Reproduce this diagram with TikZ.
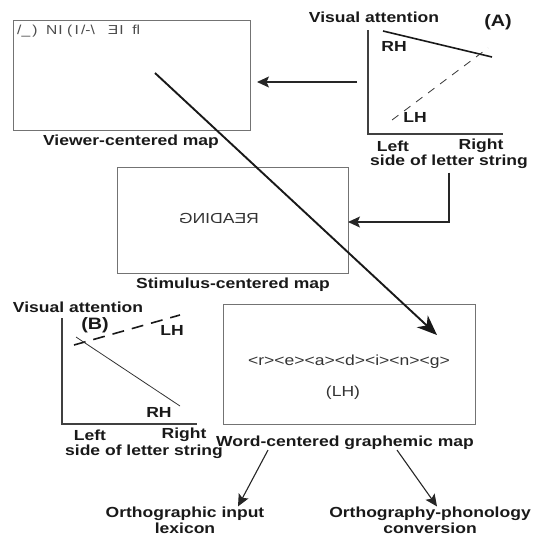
\documentclass[tikz,border=0pt]{standalone}
\usepackage{fontspec}
\usepackage{graphicx}
\setmainfont{Liberation Sans}[FakeStretch=1.2]
\usetikzlibrary{arrows.meta}

\begin{document}
\begin{tikzpicture}[x=1pt,y=-1pt,
    mapbox/.style={draw=black!55, line width=0.8pt, inner sep=0pt, outer sep=0pt},
    lbl/.style={font=\fontsize{14.6}{16}\selectfont\bfseries, text=black!90, inner sep=0pt},
    txt/.style={font=\fontsize{14.6}{16}\selectfont, text=black!80, inner sep=0pt},
    tag/.style={font=\fontsize{16.5}{18}\selectfont\bfseries, text=black!90, inner sep=0pt},
    axis/.style={draw=black!75, line width=1.1pt},
    flow/.style={draw=black!85, line width=1.1pt, -{Stealth[length=12pt,width=11pt,inset=2.5pt]}},
    bigflow/.style={draw=black!90, line width=1.9pt, -{Stealth[length=20pt,width=16pt,inset=6pt]}}
  ]
    \useasboundingbox (0,0) rectangle (533,538);

    % maps
    \node (viewer) at (131.5,75) [mapbox, minimum width=237pt, minimum height=110pt]{};
    \node (viewertxt) at (17,31) [anchor=west, font=\fontsize{13}{15}\selectfont, text=black!70, inner sep=0pt]{/\_\,)\ \ N\kern1ptI\ (\,I\,/-\textbackslash\ \ \ \reflectbox{E}\kern1ptI\ \ fl};
    \node (viewerlbl) at (131,142) [lbl]{Viewer-centered map};

    \node (stimulus) at (232.5,220) [mapbox, minimum width=231pt, minimum height=106pt]{};
    \node (reading) at (219,218) [txt]{\reflectbox{READING}};
    \node (stimuluslbl) at (233,285) [lbl]{Stimulus-centered map};

    \node (word) at (349,364) [mapbox, minimum width=252pt, minimum height=120pt]{};
    \node (graphemes) at (349,362) [txt]{<r><e><a><d><i><n><g>};
    \node (lh) at (343,393) [txt]{(LH)};
    \node (wordlbl) at (345,443) [lbl]{Word-centered graphemic map};

    \node (lexicon) at (185,520) [lbl, align=center]{Orthographic input\\lexicon};
    \node (conversion) at (430,520) [lbl, align=center]{Orthography-phonology\\conversion};

    % graph (A)
    \coordinate (Atop) at (368,30);
    \coordinate (Aorig) at (368,134);
    \coordinate (Aright) at (503,134);
    \node (Ay) at (374,17) [lbl]{Visual attention};
    \node (Atag) at (498,22) [tag]{(A)};
    \node (Arh) at (394,46) [lbl]{RH};
    \node (Alh) at (415,117) [lbl]{LH};
    \node (Aleft) at (393,146) [lbl]{Left};
    \node (Aright lbl) at (481,146) [lbl]{Right};
    \node (Ax) at (449,162) [lbl]{side of letter string};
    \coordinate (Arh0) at (383,31);
    \coordinate (Arh1) at (492,57);
    \coordinate (Alh0) at (392,120);
    \coordinate (Alh1) at (488,48);
    \coordinate (Aout) at (357,82);

    \draw[axis] (Atop) -- (Aorig) -- (Aright);
    \draw[black!90, line width=1.6pt] (Arh0) -- (Arh1);
    \draw[black!80, line width=0.8pt, dash pattern=on 8pt off 7pt] (Alh0) -- (Alh1);

    % graph (B)
    \coordinate (Btop) at (62,318);
    \coordinate (Borig) at (62,424);
    \coordinate (Bright) at (197,424);
    \node (By) at (78,307) [lbl]{Visual attention};
    \node (Btag) at (95,325) [tag]{(B)};
    \node (Blh) at (172,330) [lbl]{LH};
    \node (Brh) at (159,412) [lbl]{RH};
    \node (Bleft) at (90,435) [lbl]{Left};
    \node (Bright lbl) at (184,435) [lbl]{Right};
    \node (Bx) at (144,452) [lbl]{side of letter string};
    \coordinate (Blh0) at (74,345);
    \coordinate (Blh1) at (180,315);
    \coordinate (Brh0) at (76,337);
    \coordinate (Brh1) at (180,406);

    \draw[axis] (Btop) -- (Borig) -- (Bright);
    \draw[black!90, line width=1.6pt, dash pattern=on 12pt off 8pt] (Blh0) -- (Blh1);
    \draw[black!80, line width=0.8pt] (Brh0) -- (Brh1);

    % connections
    \draw[flow] (Aout) -- ([xshift=7pt,yshift=-7pt]viewer.east);
    \draw[flow] ([yshift=-3.5pt]Ax.south) |- ([yshift=-2pt]stimulus.east);
    \draw[bigflow] ([xshift=23.5pt,yshift=2pt]viewer.center) -- ([xshift=88pt,yshift=29pt]word.center);
    \draw[flow] ([xshift=-77pt]wordlbl.south) -- ([xshift=53pt]lexicon.north);
    \draw[flow] ([xshift=52pt]wordlbl.south) -- ([xshift=7pt]conversion.north);

\end{tikzpicture}
\end{document}
